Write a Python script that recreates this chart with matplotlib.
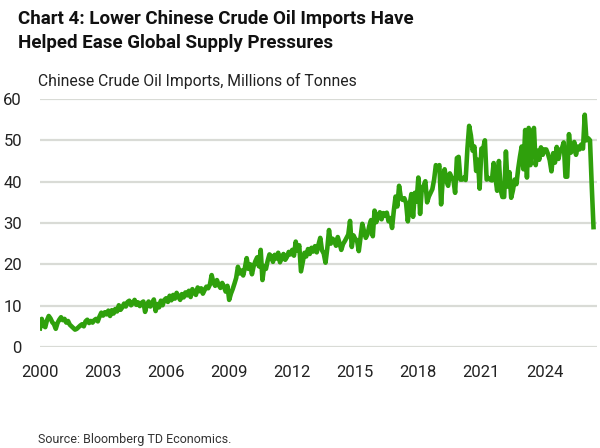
import numpy as np
import matplotlib
matplotlib.use("Agg")
import matplotlib.pyplot as plt

# Importations mensuelles de brut chinois (millions de tonnes), janv. 2000 -> mai 2026
debut = 2000
imports_par_annee = [
    [4.5, 6.8, 5.2, 4.8, 6.5, 7.5, 6.9, 6.0, 5.5, 4.4, 5.8, 6.6],          # 2000
    [7.2, 6.5, 6.8, 5.9, 6.3, 5.4, 5.0, 4.6, 4.2, 4.4, 4.8, 5.2],          # 2001
    [5.5, 5.0, 6.2, 6.6, 5.8, 6.3, 5.9, 6.5, 6.8, 6.2, 7.4, 8.3],          # 2002
    [7.6, 8.4, 7.9, 8.8, 7.5, 8.9, 8.1, 9.2, 8.6, 10.1, 9.0, 9.6],         # 2003
    [10.5, 9.8, 10.9, 11.2, 10.1, 10.6, 11.4, 10.2, 10.8, 9.9, 10.7, 11.0],  # 2004
    [8.5, 10.2, 11.0, 9.8, 10.6, 11.5, 8.7, 10.4, 9.6, 11.2, 10.1, 11.4],  # 2005
    [11.8, 10.9, 12.4, 11.3, 12.6, 11.7, 13.1, 12.2, 11.4, 12.8, 12.0, 13.2],  # 2006
    [12.5, 13.6, 12.1, 14.0, 13.2, 12.6, 14.4, 13.5, 14.2, 12.9, 13.8, 14.6],  # 2007
    [14.2, 15.1, 17.4, 15.6, 14.8, 16.2, 15.0, 14.3, 15.5, 14.6, 13.4, 14.8],  # 2008
    [11.4, 12.9, 14.0, 15.3, 16.7, 19.4, 17.8, 18.5, 17.3, 19.2, 21.5, 18.9],  # 2009
    [20.0, 17.6, 19.6, 20.8, 21.7, 19.5, 23.5, 16.2, 19.6, 18.9, 20.9, 22.4],  # 2010
    [22.0, 20.6, 22.3, 21.4, 22.8, 20.5, 21.6, 22.5, 21.1, 21.8, 23.0, 22.4],  # 2011
    [23.5, 22.1, 25.5, 23.3, 24.6, 18.3, 20.6, 22.8, 21.9, 23.7, 22.5, 24.0],  # 2012
    [23.1, 24.4, 22.9, 24.8, 26.4, 23.4, 22.6, 20.4, 23.8, 28.3, 25.0, 26.2],  # 2013
    [25.8, 24.5, 26.6, 25.1, 23.5, 24.9, 25.6, 26.4, 27.2, 30.5, 24.2, 27.0],  # 2014
    [26.1, 25.8, 23.2, 26.5, 29.8, 28.0, 26.4, 27.3, 29.3, 30.7, 26.8, 33.0],  # 2015
    [30.2, 31.5, 32.6, 30.9, 32.4, 31.8, 32.5, 30.4, 31.2, 28.8, 33.0, 36.4],  # 2016
    [34.0, 39.0, 36.2, 35.6, 36.0, 34.8, 30.4, 34.2, 37.0, 31.5, 37.3, 35.2],  # 2017
    [41.0, 32.2, 38.5, 39.0, 40.1, 35.0, 36.4, 37.3, 38.2, 40.5, 44.0, 43.2],  # 2018
    [44.0, 34.5, 41.0, 43.0, 40.2, 39.0, 42.0, 41.0, 40.5, 37.3, 45.7, 46.0],  # 2019
    [40.5, 40.5, 41.0, 40.4, 47.9, 53.5, 51.2, 47.5, 48.5, 42.6, 45.3, 38.3],  # 2020
    [48.0, 48.0, 50.0, 40.5, 40.9, 40.5, 40.3, 44.5, 41.0, 37.8, 45.0, 38.0],  # 2021
    [36.3, 36.3, 47.3, 38.8, 42.3, 36.1, 37.9, 40.5, 39.4, 43.1, 46.0, 48.5],  # 2022
    [43.0, 52.5, 41.0, 53.0, 44.0, 51.4, 53.0, 44.0, 47.5, 45.3, 48.3, 46.5],  # 2023
    [47.8, 47.8, 46.7, 45.2, 42.5, 46.9, 44.6, 48.4, 45.5, 47.7, 48.1, 49.5],  # 2024
    [41.2, 41.2, 51.5, 47.0, 47.5, 49.6, 46.5, 48.5, 47.8, 49.0, 48.0, 56.2],  # 2025
    [50.0, 50.5, 50.0, 39.0, 29.0],                                           # 2026
]
imports = [v for annee in imports_par_annee for v in annee]
annees = debut + np.arange(len(imports)) / 12

annees_affichees = [2000, 2003, 2006, 2009, 2012, 2015, 2018, 2021, 2024]
graduations_y = [0, 10, 20, 30, 40, 50, 60]

vert = "#2FA00C"
gris_grille = "#d9dbd6"

fig = plt.figure(figsize=(6, 4.48), dpi=100)
ax = fig.add_axes([40/600, 101/448, 557/600, 248/448])

ax.plot(annees, imports, color=vert, lw=3.3, solid_joinstyle="round")

ax.set_xlim(2000, 2026.5)
ax.set_ylim(0, 60)
ax.set_xticks(annees_affichees)
ax.set_xticklabels([str(a) for a in annees_affichees])
ax.set_yticks(graduations_y)
ax.yaxis.grid(True, color=gris_grille, lw=1.6)
ax.set_axisbelow(True)
for s in ax.spines.values():
    s.set_visible(False)
ax.tick_params(axis="both", length=0, labelsize=12, colors="#222222")
ax.tick_params(axis="y", pad=13)
ax.tick_params(axis="x", pad=13)
for lab in ax.get_xticklabels() + ax.get_yticklabels():
    lab.set_family("Roboto")

fig.text(18/600, 1 - 10/448, "Chart 4: Lower Chinese Crude Oil Imports Have\nHelped Ease Global Supply Pressures",
         ha="left", va="top", fontsize=13.5, fontweight="bold", family="Roboto",
         linespacing=1.45, color="#111111")
fig.text(38/600, 1 - 73/448, "Chinese Crude Oil Imports, Millions of Tonnes",
         ha="left", va="top", fontsize=11.3, family="Roboto", color="#222222")
fig.text(38/600, 1 - 433/448, "Source: Bloomberg TD Economics.",
         ha="left", va="top", fontsize=9.0, family="Roboto", color="#333333")

fig.savefig("out.png", dpi=100)
